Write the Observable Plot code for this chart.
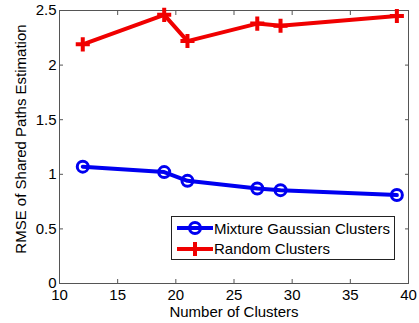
<!DOCTYPE html>
<html><head><meta charset="utf-8">
<script src="https://cdn.jsdelivr.net/npm/d3@7"></script>
<script src="https://cdn.jsdelivr.net/npm/@observablehq/plot@0.6"></script>
<style>
body{margin:0;background:#fff;font-family:"Liberation Sans",Arial,sans-serif;}
#wrap{position:relative;width:419px;height:323px;}
#legend{position:absolute;left:171px;top:216px;width:222px;height:42px;border:1px solid #222;background:#fff;font-size:15px;color:#000;}
.row{position:absolute;left:4px;height:20px;display:flex;align-items:center;}
</style></head><body>
<div id="wrap"></div>
<script>
const clusters = [12, 19, 21, 27, 29, 39];
const gaussianRMSE = [1.07, 1.02, 0.94, 0.87, 0.855, 0.81];
const randomRMSE = [2.19, 2.46, 2.22, 2.38, 2.36, 2.45];
const seriesNames = ["Mixture Gaussian Clusters", "Random Clusters"];
const xTicks = [10, 15, 20, 25, 30, 35, 40];
const yTicks = [0, 0.5, 1, 1.5, 2, 2.5];
const xLabel = "Number of Clusters";
const yLabel = "RMSE of Shared Paths Estimation";

const gauss = clusters.map((c, i) => ({x: c, y: gaussianRMSE[i]}));
const rand = clusters.map((c, i) => ({x: c, y: randomRMSE[i]}));
const blue = "#0000f0", red = "#f00000";

const plot = Plot.plot({
  width: 419, height: 323,
  marginLeft: 59, marginTop: 10, marginRight: 11, marginBottom: 40,
  style: {fontFamily: "Liberation Sans, Arial, sans-serif", fontSize: "15px", color: "#000", background: "#fff"},
  x: {domain: [10, 40]},
  y: {domain: [0, 2.5]},
  marks: [
    Plot.frame({stroke: "#555", strokeWidth: 1}),
    Plot.axisX({anchor: "bottom", ticks: xTicks, tickSize: -4, tickPadding: 10, tickFormat: d => String(d), stroke: "#555", fontSize: 15, label: xLabel, labelAnchor: "center", labelArrow: "none", labelOffset: 33}),
    Plot.axisX({anchor: "top", ticks: xTicks, tickSize: -4, tickFormat: () => "", stroke: "#555", label: null}),
    Plot.axisY({anchor: "left", ticks: yTicks, tickSize: -4, tickPadding: 7, tickFormat: d => String(d), stroke: "#555", fontSize: 15, label: null}),
    Plot.axisY({anchor: "right", ticks: yTicks, tickSize: -4, tickFormat: () => "", stroke: "#555", label: null}),
    Plot.text([yLabel], {text: d => d, frameAnchor: "left", textAnchor: "middle", rotate: -90, dx: -38, dy: -8, fontSize: 15, fill: "#000"}),
    Plot.line(gauss, {x: "x", y: "y", stroke: blue, strokeWidth: 4}),
    Plot.dot(gauss, {x: "x", y: "y", r: 5.5, stroke: blue, strokeWidth: 3, fill: "none"}),
    Plot.line(rand, {x: "x", y: "y", stroke: red, strokeWidth: 4}),
    Plot.dot(rand, {x: "x", y: "y", r: 4.6, symbol: "plus", stroke: red, strokeWidth: 4})
  ]
});
const wrap = document.getElementById("wrap");
wrap.appendChild(plot);
const lg = document.createElement("div");
lg.id = "legend";
const icons = [
  '<svg width="38" height="20"><line x1="1" y1="10" x2="37" y2="10" stroke="' + blue + '" stroke-width="4"/><circle cx="19" cy="10" r="5.5" fill="none" stroke="' + blue + '" stroke-width="3"/></svg>',
  '<svg width="38" height="20"><line x1="1" y1="10" x2="37" y2="10" stroke="' + red + '" stroke-width="4"/><path d="M19,3V17M12,10H26" stroke="' + red + '" stroke-width="4"/></svg>'
];
seriesNames.forEach((n, i) => {
  const r = document.createElement("div");
  r.className = "row";
  r.style.top = (1 + i * 20.5) + "px";
  r.innerHTML = icons[i] + "<span>" + n + "</span>";
  lg.appendChild(r);
});
wrap.appendChild(lg);
</script>
</body></html>
